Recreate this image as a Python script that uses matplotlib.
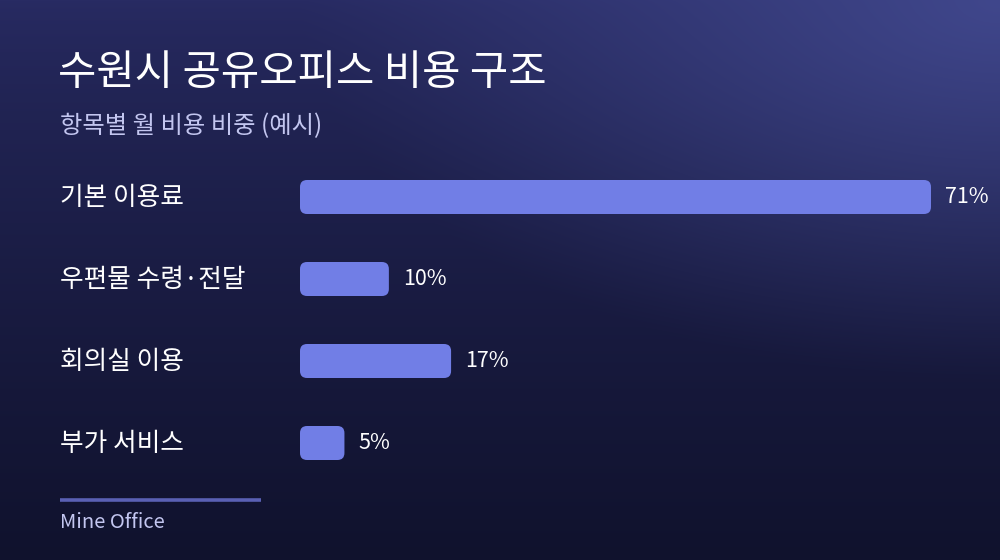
import numpy as np
import matplotlib
matplotlib.use('Agg')
import matplotlib.pyplot as plt
from matplotlib.patches import FancyBboxPatch

plt.rcParams['font.family'] = ['Noto Sans CJK KR', 'DejaVu Sans']

title = '수원시 공유오피스 비용 구조'
subtitle = '항목별 월 비용 비중 (예시)'
categories = ['기본 이용료', '우편물 수령·전달', '회의실 이용', '부가 서비스']
shares = [71, 10, 17, 5]
source = 'Mine Office'

W, H = 1000, 560
fig = plt.figure(figsize=(W / 100, H / 100), dpi=100)

# background: vertical gradient plus a glow in the top-right corner
bg = fig.add_axes([0, 0, 1, 1])
yy, xx = np.mgrid[0:H, 0:W]
top = np.array([0x28, 0x2b, 0x63]) / 255
bot = np.array([0x10, 0x12, 0x2d]) / 255
t = (yy / H)[..., None] ** 0.75
img = top * (1 - t) + bot * t
glow = np.array([0x40, 0x47, 0x8c]) / 255
d = np.sqrt(((xx - W) / 700.0) ** 2 + (yy / 380.0) ** 2)
g = np.clip(1 - d, 0, 1)[..., None] ** 1.1
img = img * (1 - g) + glow * g
bg.imshow(img, extent=[0, W, H, 0], aspect='auto')
bg.set_xlim(0, W)
bg.set_ylim(H, 0)
bg.axis('off')

bg.text(58, 74, title, color='white', fontsize=30, va='center', ha='left')
bg.text(60, 126, subtitle, color='#c3c6f0', fontsize=17.5, va='center', ha='left')
bg.plot([60, 261], [500, 500], color='#5a60b4', lw=2.6, solid_capstyle='butt')
bg.text(60, 523, source, color='#c3c6f0', fontsize=14.5, va='center', ha='left')

# bar area: 1 % = ~8.89 px starting at x=300
px_per_pct = 631 / 71
ax = fig.add_axes([0.30, 0, 0.70, 1])
ax.set_xlim(0, 700 / px_per_pct)
# rows at y=197, 280, 362, 443 px (spacing ~82)
row_px = 82
y0 = 197
ax.set_ylim((H - y0) / row_px, -y0 / row_px)
ax.axis('off')
ax.patch.set_alpha(0)

bar_h = 34 / row_px
rx = 7 / px_per_pct
ry = 7 / row_px
for i, (cat, v) in enumerate(zip(categories, shares)):
    box = FancyBboxPatch((rx, i - bar_h / 2 + ry), v - 2 * rx, bar_h - 2 * ry,
                         boxstyle=f'round,pad={rx}', mutation_aspect=ry / rx,
                         fc='#717ee6', ec='none')
    ax.add_patch(box)
    ax.text(v + 14 / px_per_pct, i, f'{v}%', color='white', fontsize=15.5,
            va='center', ha='left')
    bg.text(60, y0 + i * row_px + 1, cat, color='white', fontsize=18.5,
            va='center', ha='left')

fig.savefig('out.png', dpi=100)
